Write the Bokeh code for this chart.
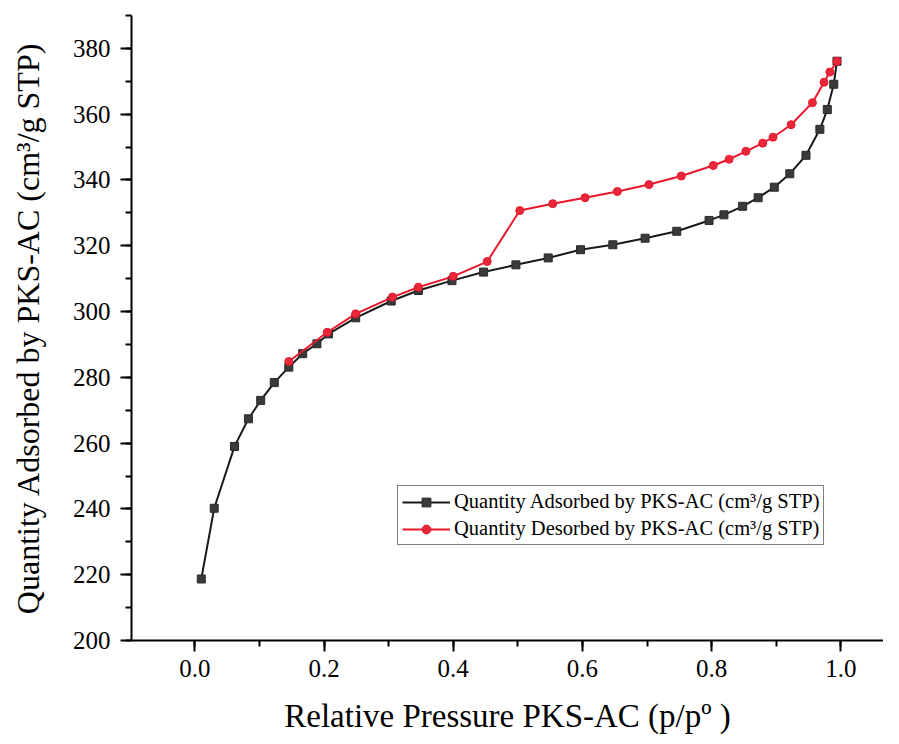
from bokeh.plotting import figure
from bokeh.models import SingleIntervalTicker, Range1d, PrintfTickFormatter
from bokeh.embed import file_html
from bokeh.resources import INLINE

ads_x = [0.010, 0.030, 0.0615, 0.083, 0.102, 0.123, 0.1455, 0.167, 0.189, 0.207, 0.249, 0.304,
         0.346, 0.398, 0.447, 0.497, 0.547, 0.597, 0.647, 0.697, 0.746, 0.796, 0.819, 0.848,
         0.872, 0.897, 0.921, 0.946, 0.9675, 0.979, 0.989, 0.994]
ads_y = [218.7, 240.2, 259.0, 267.4, 273.0, 278.4, 283.1, 287.2, 290.2, 293.2, 298.1, 303.2,
         306.4, 309.4, 312.0, 314.2, 316.3, 318.8, 320.3, 322.3, 324.4, 327.7, 329.4, 332.0,
         334.6, 337.8, 341.9, 347.5, 355.4, 361.4, 369.1, 376.1]

des_x = [0.1455, 0.205, 0.249, 0.306, 0.346, 0.400, 0.4526, 0.503, 0.554, 0.604, 0.654, 0.703,
         0.753, 0.8025, 0.827, 0.853, 0.879, 0.895, 0.923, 0.956, 0.974, 0.983, 0.994]
des_y = [284.8, 293.7, 299.3, 304.4, 307.4, 310.7, 315.2, 330.7, 332.8, 334.6, 336.5, 338.6,
         341.2, 344.4, 346.3, 348.7, 351.2, 353.0, 356.8, 363.5, 369.7, 372.8, 376.1]

x_label = "Relative Pressure PKS-AC (p/pº )"
y_label = "Quantity Adsorbed by PKS-AC (cm³/g STP)"
ads_label = "Quantity Adsorbed by PKS-AC (cm³/g STP)"
des_label = "Quantity Desorbed by PKS-AC (cm³/g STP)"

FONT = "Liberation Serif"

p = figure(width=883, height=736, output_backend="svg", toolbar_location=None,
           x_range=Range1d(-0.098, 1.066), y_range=Range1d(200, 390),
           min_border_left=131, min_border_right=0, min_border_top=15, min_border_bottom=96)
p.outline_line_color = None
p.xgrid.visible = False
p.ygrid.visible = False

p.line(ads_x, ads_y, line_color="#1a1a1a", line_width=2, legend_label=ads_label)
p.scatter(ads_x, ads_y, marker="square", size=8, fill_color="#3a3a3a", line_color="#2a2a2a",
          legend_label=ads_label)
p.line(des_x, des_y, line_color="#e8192c", line_width=2, legend_label=des_label)
p.scatter(des_x, des_y, marker="circle", size=8, fill_color="#e8283a", line_color="#e8192c",
          legend_label=des_label)

p.xaxis.ticker = SingleIntervalTicker(interval=0.2, num_minor_ticks=2)
p.yaxis.ticker = SingleIntervalTicker(interval=20, num_minor_ticks=2)
p.xaxis.formatter = PrintfTickFormatter(format="%.1f")

for ax in (p.xaxis, p.yaxis):
    ax.axis_line_width = 2
    ax.axis_line_color = "black"
    ax.major_tick_line_width = 2
    ax.minor_tick_line_width = 2
    ax.major_tick_line_color = "black"
    ax.minor_tick_line_color = "black"
    ax.major_tick_out = 11
    ax.major_tick_in = 0
    ax.minor_tick_out = 6
    ax.minor_tick_in = 0
    ax.major_label_text_font = FONT
    ax.major_label_text_font_size = "25px"
    ax.major_label_text_color = "black"
    ax.axis_label_text_font = FONT
    ax.axis_label_text_font_style = "normal"
    ax.axis_label_text_color = "black"

p.xaxis.axis_label = x_label
p.yaxis.axis_label = y_label
p.xaxis.axis_label_text_font_size = "33px"
p.yaxis.axis_label_text_font_size = "32px"
p.xaxis.major_label_standoff = 8
p.yaxis.major_label_standoff = 10
p.xaxis.axis_label_standoff = 18
p.yaxis.axis_label_standoff = 24

lg = p.legend[0]
lg.location = (266, 95)
lg.label_text_font = FONT
lg.label_text_font_size = "20.5px"
lg.label_text_color = "black"
lg.border_line_color = "black"
lg.border_line_width = 1
lg.background_fill_alpha = 1
lg.glyph_width = 48
lg.glyph_height = 22
lg.label_height = 22
lg.spacing = 4
lg.padding = 4
lg.margin = 0
lg.label_standoff = 4

open("out.html", "w").write(file_html(p, INLINE))
